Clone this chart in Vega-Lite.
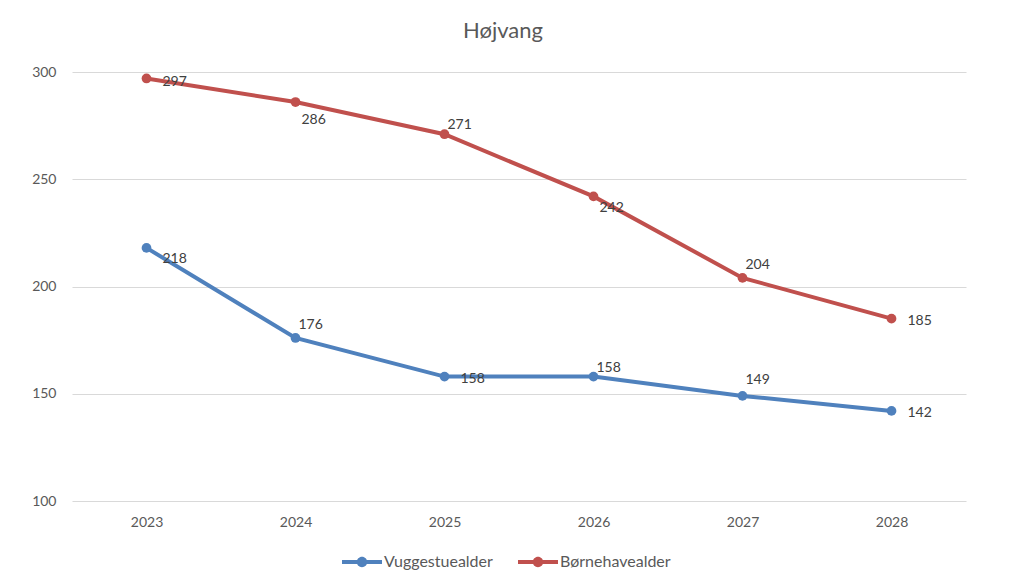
{
  "$schema": "https://vega.github.io/schema/vega-lite/v6.json",
  "width": 894,
  "height": 429,
  "autosize": {"type": "none"},
  "padding": {"left": 72, "top": 72, "right": 45, "bottom": 87},
  "background": "white",
  "title": {"text": "Højvang", "anchor": "middle", "frame": "group", "dx": -16, "offset": 22, "fontSize": 22, "font": "Lato", "fontWeight": "normal", "color": "#595959"},
  "config": {
    "view": {"stroke": null},
    "font": "Lato",
    "axis": {"labelFont": "Lato", "labelFontSize": 14, "labelColor": "#595959", "domain": false, "ticks": false, "title": null},
    "legend": {"labelFont": "Lato", "labelFontSize": 16, "labelColor": "#595959"}
  },
  "data": {"values": [
    {"year": "2023", "series": "Vuggestuealder", "value": 218},
    {"year": "2024", "series": "Vuggestuealder", "value": 176},
    {"year": "2025", "series": "Vuggestuealder", "value": 158},
    {"year": "2026", "series": "Vuggestuealder", "value": 158},
    {"year": "2027", "series": "Vuggestuealder", "value": 149},
    {"year": "2028", "series": "Vuggestuealder", "value": 142},
    {"year": "2023", "series": "Børnehavealder", "value": 297},
    {"year": "2024", "series": "Børnehavealder", "value": 286},
    {"year": "2025", "series": "Børnehavealder", "value": 271},
    {"year": "2026", "series": "Børnehavealder", "value": 242},
    {"year": "2027", "series": "Børnehavealder", "value": 204},
    {"year": "2028", "series": "Børnehavealder", "value": 185}
  ]},
  "encoding": {
    "x": {"field": "year", "type": "nominal", "sort": null,
          "scale": {"paddingInner": 0, "paddingOuter": 0},
          "axis": {"labelAngle": 0, "labelPadding": 14, "grid": false}},
    "y": {"field": "value", "type": "quantitative",
          "scale": {"domain": [100, 300], "nice": false, "zero": false},
          "axis": {"values": [100, 150, 200, 250, 300], "labelPadding": 16, "grid": true, "gridColor": "#D9D9D9", "gridWidth": 1.2}},
    "color": {"field": "series", "type": "nominal",
              "scale": {"domain": ["Vuggestuealder", "Børnehavealder"], "range": ["#4F81BD", "#C0504D"]},
              "legend": {"title": null, "orient": "none", "direction": "horizontal", "legendX": 270, "legendY": 470,
                         "symbolType": "M-1,-0.1L1,-0.1L1,0.1L-1,0.1Z M0.26,0A0.26,0.26 0 1,1 -0.26,0A0.26,0.26 0 1,1 0.26,0Z",
                         "symbolSize": 1600, "symbolStrokeWidth": 0, "labelOffset": 2, "columnPadding": 25,
                         "encode": {"symbols": {"update": {"fill": {"scale": "color", "field": "value"}, "fillOpacity": {"value": 1}, "strokeWidth": {"value": 0}}}}}}
  },
  "layer": [
    {"mark": {"type": "line", "strokeWidth": 4}},
    {"mark": {"type": "point", "filled": true, "size": 95, "opacity": 1}},
    {"transform": [{"filter": "(datum.series=='Børnehavealder' && datum.year=='2028') || (datum.series=='Vuggestuealder' && (datum.year=='2025' || datum.year=='2028'))"}],
     "mark": {"type": "text", "align": "left", "dx": 16, "dy": 2, "fontSize": 14},
     "encoding": {"text": {"field": "value", "type": "quantitative"}, "color": {"value": "#404040"}}},
    {"transform": [{"filter": "datum.series=='Børnehavealder' && datum.year=='2023'"}],
     "mark": {"type": "text", "align": "left", "dx": 16, "dy": 4, "fontSize": 14},
     "encoding": {"text": {"field": "value", "type": "quantitative"}, "color": {"value": "#404040"}}},
    {"transform": [{"filter": "datum.series=='Vuggestuealder' && datum.year=='2023'"}],
     "mark": {"type": "text", "align": "left", "dx": 16, "dy": 11, "fontSize": 14},
     "encoding": {"text": {"field": "value", "type": "quantitative"}, "color": {"value": "#404040"}}},
    {"transform": [{"filter": "datum.series=='Børnehavealder' && datum.year=='2024'"}],
     "mark": {"type": "text", "align": "left", "dx": 6, "dy": 18, "fontSize": 14},
     "encoding": {"text": {"field": "value", "type": "quantitative"}, "color": {"value": "#404040"}}},
    {"transform": [{"filter": "datum.series=='Børnehavealder' && datum.year=='2026'"}],
     "mark": {"type": "text", "align": "left", "dx": 6, "dy": 12, "fontSize": 14},
     "encoding": {"text": {"field": "value", "type": "quantitative"}, "color": {"value": "#404040"}}},
    {"transform": [{"filter": "(datum.series=='Børnehavealder' && datum.year=='2025') || (datum.series=='Vuggestuealder' && datum.year=='2026')"}],
     "mark": {"type": "text", "align": "left", "dx": 3, "dy": -9, "fontSize": 14},
     "encoding": {"text": {"field": "value", "type": "quantitative"}, "color": {"value": "#404040"}}},
    {"transform": [{"filter": "(datum.series=='Børnehavealder' && datum.year=='2027') || (datum.series=='Vuggestuealder' && datum.year=='2024')"}],
     "mark": {"type": "text", "align": "left", "dx": 3, "dy": -13, "fontSize": 14},
     "encoding": {"text": {"field": "value", "type": "quantitative"}, "color": {"value": "#404040"}}},
    {"transform": [{"filter": "datum.series=='Vuggestuealder' && datum.year=='2027'"}],
     "mark": {"type": "text", "align": "left", "dx": 3, "dy": -16, "fontSize": 14},
     "encoding": {"text": {"field": "value", "type": "quantitative"}, "color": {"value": "#404040"}}}
  ]
}
